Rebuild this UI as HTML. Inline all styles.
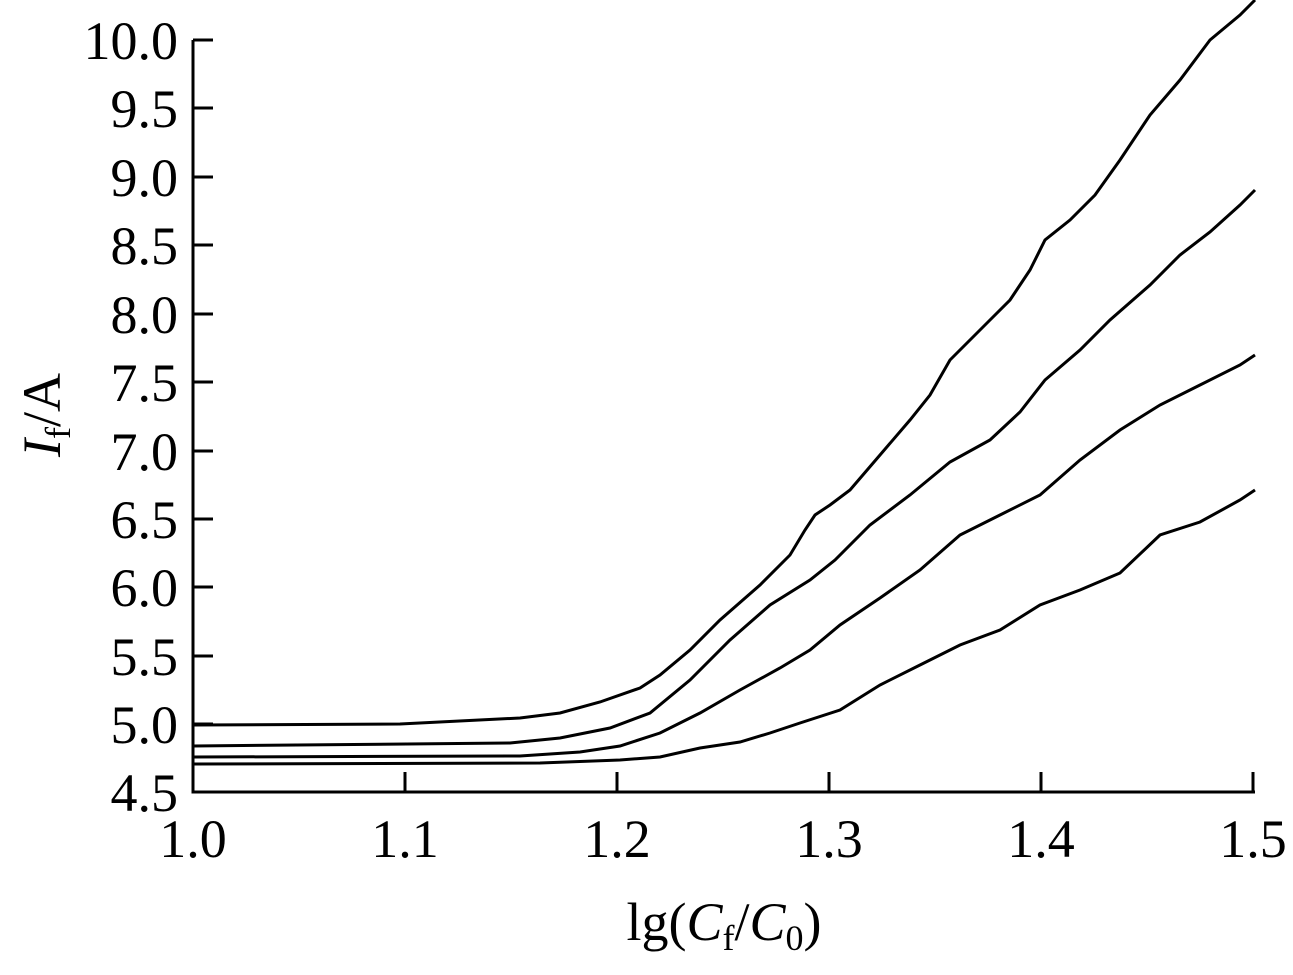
<!DOCTYPE html>
<html><head><style>body{margin:0;background:#fff}</style></head><body>
<svg width="1293" height="970" xmlns="http://www.w3.org/2000/svg" font-family="Liberation Serif, serif" font-size="54">
<g stroke="#000" stroke-width="3" fill="none">
<path d="M193,40 V792 H1255"/>
<path d="M193,40h20M193,108h20M193,177h20M193,245h20M193,314h20M193,382h20M193,451h20M193,519h20M193,587h20M193,656h20M193,724h20"/>
<path d="M405,792v-20M617,792v-20M829,792v-20M1041,792v-20M1253,792v-20"/>
<polyline points="193,725 400,724 520,718 560,713 600,702 640,688 660,675 690,650 720,620 760,585 790,555 805,530 815,515 830,505 850,490 880,455 910,420 930,395 950,360 970,340 990,320 1010,300 1030,270 1045,240 1070,220 1095,195 1120,160 1150,115 1180,80 1210,40 1240,15 1255,0"/>
<polyline points="193,746 510,743 560,738 610,728 650,713 690,680 730,640 770,605 810,580 835,560 870,525 910,495 950,462 990,440 1020,412 1045,380 1080,350 1110,320 1150,285 1180,255 1210,232 1240,205 1255,190"/>
<polyline points="193,757 520,756 580,752 620,746 660,733 700,713 740,690 780,668 810,650 840,625 880,598 920,570 960,535 1000,515 1040,495 1080,460 1120,430 1160,405 1200,385 1240,365 1255,355"/>
<polyline points="193,764 540,763 620,760 660,757 700,748 740,742 770,733 800,723 840,710 880,685 920,665 960,645 1000,630 1040,605 1080,590 1120,573 1160,535 1200,522 1240,500 1255,490"/>
</g>
<g text-anchor="end">
<text x="178" y="59">10.0</text><text x="178" y="127">9.5</text><text x="178" y="196">9.0</text><text x="178" y="264">8.5</text><text x="178" y="333">8.0</text><text x="178" y="401">7.5</text><text x="178" y="470">7.0</text><text x="178" y="538">6.5</text><text x="178" y="606">6.0</text><text x="178" y="675">5.5</text><text x="178" y="743">5.0</text><text x="178" y="811">4.5</text>
</g>
<g text-anchor="middle">
<text x="193" y="857">1.0</text><text x="405" y="857">1.1</text><text x="617" y="857">1.2</text><text x="829" y="857">1.3</text><text x="1041" y="857">1.4</text><text x="1253" y="857">1.5</text>
<text x="724" y="940">lg(<tspan font-style="italic">C</tspan><tspan font-size="36" dy="10">f</tspan><tspan dy="-10">/</tspan><tspan font-style="italic">C</tspan><tspan font-size="36" dy="10">0</tspan><tspan dy="-10">)</tspan></text>
</g>
<text transform="translate(60,415) rotate(-90)" text-anchor="middle"><tspan font-style="italic">I</tspan><tspan font-size="36" dy="10">f</tspan><tspan dy="-10">/A</tspan></text>
</svg>
</body></html>
